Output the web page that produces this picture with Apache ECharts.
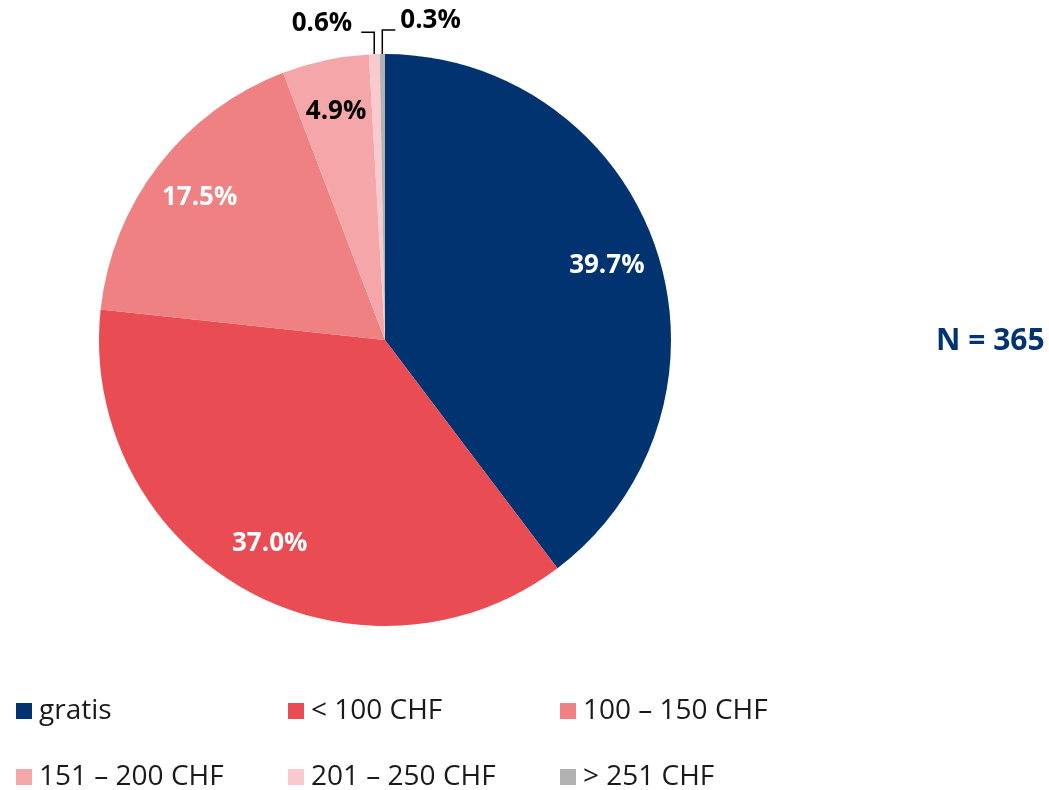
<!DOCTYPE html>
<html>
<head>
<meta charset="utf-8">
<script src="https://cdn.jsdelivr.net/npm/echarts@6/dist/echarts.min.js"></script>
<style>
  html, body { margin: 0; padding: 0; background: #ffffff; }
  #chart { width: 1049px; height: 790px; }
</style>
</head>
<body>
<div id="chart"></div>
<script>
const categories = ["gratis", "< 100 CHF", "100 – 150 CHF", "151 – 200 CHF", "201 – 250 CHF", "> 251 CHF"];
const shares = [39.7, 37.0, 17.5, 4.9, 0.6, 0.3];
const colors = ["#003370", "#E94C53", "#EF8183", "#F4A6A9", "#F8CACD", "#B2B2B2"];
const labelColors = ["#ffffff", "#ffffff", "#ffffff", "#000000"];
const sampleSize = 365;

const font = "'Open Sans', 'Noto Sans', sans-serif";
const chart = echarts.init(document.getElementById("chart"));

// main pie, only the two tiny slices get outside labels
const mainData = categories.map((name, i) => ({
  name: name,
  value: shares[i],
  itemStyle: { color: colors[i] },
  label: { show: i >= 4 },
  labelLine: { show: i >= 4 },
}));

// transparent copy, bigger, only used to place the inside labels further out
const labelData = categories.map((name, i) => ({
  name: name,
  value: shares[i],
  label: { show: i < 4, color: labelColors[i] || "#000000" },
}));

// one legend per entry, 3 columns x 2 rows
const legends = categories.map((name, i) => ({
  data: [name],
  icon: "rect",
  itemWidth: 16,
  itemHeight: 16,
  padding: 0,
  left: 16 + (i % 3) * 272,
  top: i < 3 ? 697 : 763,
  selectedMode: false,
  textStyle: {
    fontFamily: font,
    fontSize: 28,
    color: "#1a1a1a",
    padding: [0, 0, 0, 2],
  },
}));

chart.setOption({
  animation: false,
  title: {
    text: "N = " + sampleSize,
    left: 931,
    top: 321,
    textStyle: { fontFamily: font, fontSize: 30, fontWeight: "bold", color: "#003370" },
  },
  legend: legends,
  series: [
    {
      type: "pie",
      center: [385, 340],
      radius: 286,
      startAngle: 90,
      clockwise: true,
      silent: true,
      avoidLabelOverlap: false,
      data: mainData,
      label: {
        position: "outside",
        formatter: (p) => p.value.toFixed(1) + "%",
        fontFamily: font,
        fontSize: 26,
        fontWeight: "bold",
        color: "#000000",
      },
      labelLine: {
        length: 21,
        length2: 13,
        lineStyle: { color: "#000000", width: 1.5 },
      },
      labelLayout: function (params) {
        if (params.dataIndex < 4 || !params.labelLinePoints) return {};
        const p0 = params.labelLinePoints[0];
        const left = params.dataIndex === 4;
        const knee = [p0[0], p0[1] - (left ? 22 : 24)];
        const end = [knee[0] + (left ? -13 : 13), knee[1]];
        return {
          x: end[0] + (left ? -9 : 5),
          y: knee[1] - 9,
          align: left ? "right" : "left",
          verticalAlign: "middle",
          labelLinePoints: [p0, knee, end],
        };
      },
    },
    {
      type: "pie",
      center: [385, 340],
      radius: 462,
      startAngle: 90,
      clockwise: true,
      silent: true,
      emphasis: { disabled: true },
      itemStyle: { color: "rgba(0,0,0,0)" },
      data: labelData,
      label: {
        position: "inside",
        formatter: (p) => p.value.toFixed(1) + "%",
        fontFamily: font,
        fontSize: 26,
        fontWeight: "bold",
      },
      labelLine: { show: false },
    },
  ],
});
</script>
</body>
</html>
